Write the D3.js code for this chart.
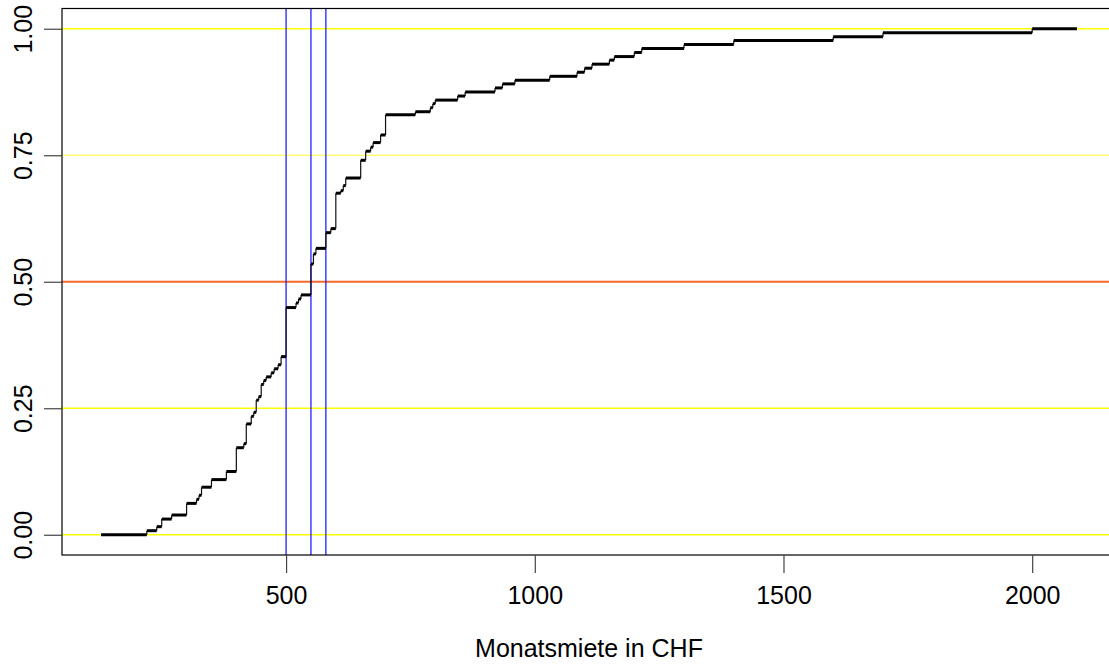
<!DOCTYPE html>
<html>
<head>
<meta charset="utf-8">
<script src="https://cdn.jsdelivr.net/npm/d3@7"></script>
<style>
  html, body { margin: 0; padding: 0; background: #fff; }
  svg { display: block; }
  text { font-family: "Liberation Sans", Arial, Helvetica, sans-serif; fill: #000; }
</style>
</head>
<body>
<svg id="chart" width="1109" height="666"></svg>
<script>
// ---- data ----
const knots = [220,240,250,270,300,320,325,330,350,380,400,415,420,430,435,440,445,450,455,460,
               470,476,484,490,500,520,525,530,550,555,560,580,590,600,610,615,620,650,660,670,
               675,690,700,760,790,795,800,845,860,920,935,960,1030,1085,1100,1115,1150,1160,1200,1215,
               1300,1400,1600,1700,2000];
const levels = [0.008,0.016,0.031,0.039,0.062,0.070,0.078,0.094,0.109,0.125,0.172,0.180,0.219,0.234,0.242,0.266,0.273,0.297,0.305,0.312,
                0.320,0.328,0.336,0.352,0.449,0.458,0.466,0.474,0.535,0.555,0.566,0.597,0.605,0.675,0.680,0.690,0.705,0.740,0.758,0.766,
                0.775,0.790,0.830,0.836,0.844,0.852,0.859,0.867,0.875,0.883,0.891,0.898,0.906,0.914,0.922,0.930,0.938,0.945,0.953,0.961,
                0.969,0.977,0.984,0.992,1.000];
const ecdfRange = [128, 2090];          // extent of the step function line
const xTicks = [500, 1000, 1500, 2000];
const yTicks = [0, 0.25, 0.5, 0.75, 1];
const yTickLabels = ["0.00", "0.25", "0.50", "0.75", "1.00"];
const hLines = [0, 0.25, 1];            // yellow reference lines
const hLinesThin = [0.75];              // thinner yellow reference line
const medianLine = [0.5];               // orange reference line
const vLines = [500, 550, 580];         // blue vertical lines
const xTitle = "Monatsmiete in CHF";

// ---- layout ----
const L = 62, R = 1116, T = 8.5, B = 555;
const FONT = "'Liberation Sans', Arial, Helvetica, sans-serif";
const pad = 0.04 * (ecdfRange[1] - ecdfRange[0]);
const x = d3.scaleLinear().domain([ecdfRange[0] - pad, ecdfRange[1] + pad]).range([L, R]);
const y = d3.scaleLinear().domain([-0.04, 1.04]).range([B, T]);

const svg = d3.select("#chart");
svg.append("rect").attr("width", 1109).attr("height", 666).attr("fill", "#fff");

// reference lines
svg.append("g").selectAll("line").data(hLines).join("line")
  .attr("x1", L).attr("x2", R).attr("y1", d => y(d)).attr("y2", d => y(d))
  .attr("stroke", "#ffff00").attr("stroke-width", 1.6);
svg.append("g").selectAll("line").data(hLinesThin).join("line")
  .attr("x1", L).attr("x2", R).attr("y1", d => y(d)).attr("y2", d => y(d))
  .attr("stroke", "#ffff30").attr("stroke-width", 1.0);
svg.append("g").selectAll("line").data(medianLine).join("line")
  .attr("x1", L).attr("x2", R).attr("y1", d => y(d)).attr("y2", d => y(d))
  .attr("stroke", "#f4692a").attr("stroke-width", 1.8);
svg.append("g").selectAll("line").data(vLines).join("line")
  .attr("x1", d => x(d)).attr("x2", d => x(d)).attr("y1", T).attr("y2", B)
  .attr("stroke", "#2020ff").attr("stroke-width", 1.3);

// ecdf step function
const lefts = [ecdfRange[0]].concat(knots);
const rights = knots.concat([ecdfRange[1]]);
const ys = [0].concat(levels);
const segs = lefts.map((l, i) => ({x0: l, x1: rights[i], y: ys[i]}));
const verts = knots.map((k, i) => ({x: k, y0: ys[i], y1: ys[i + 1]}));

svg.append("g").selectAll("line").data(verts).join("line")
  .attr("x1", d => x(d.x)).attr("x2", d => x(d.x))
  .attr("y1", d => y(d.y0)).attr("y2", d => y(d.y1))
  .attr("stroke", "#111").attr("stroke-width", 1.2);
svg.append("g").selectAll("line").data(segs).join("line")
  .attr("x1", d => x(d.x0)).attr("x2", d => x(d.x1))
  .attr("y1", d => y(d.y)).attr("y2", d => y(d.y))
  .attr("stroke", "#000").attr("stroke-width", 3);

// box
svg.append("rect").attr("x", L).attr("y", T).attr("width", R - L).attr("height", B - T)
  .attr("fill", "none").attr("stroke", "#000").attr("stroke-width", 1.2);

// x axis
const xAxis = svg.append("g").attr("transform", `translate(0,${B})`)
  .call(d3.axisBottom(x).tickValues(xTicks).tickFormat(d3.format("d")).tickSize(18).tickPadding(13));
xAxis.select(".domain").remove();
xAxis.selectAll("line").attr("stroke", "#444").attr("stroke-width", 1.2);
xAxis.selectAll("text").style("font-size", "25px").style("font-family", FONT).attr("fill", "#000");

// y axis
const yAxis = svg.append("g").attr("transform", `translate(${L},0)`)
  .call(d3.axisLeft(y).tickValues(yTicks).tickSize(18).tickFormat((d, i) => yTickLabels[i]));
yAxis.select(".domain").remove();
yAxis.selectAll("line").attr("stroke", "#444").attr("stroke-width", 1.2);
yAxis.selectAll("text").remove();
yAxis.selectAll(".tick").append("text")
  .attr("transform", "translate(-30,0) rotate(-90)")
  .attr("text-anchor", "middle")
  .style("font-size", "25px")
  .style("font-family", FONT)
  .attr("fill", "#000")
  .text((d, i) => yTickLabels[i]);

// x title
svg.append("text").attr("x", (L + R) / 2).attr("y", 657)
  .attr("text-anchor", "middle").style("font-size", "25px").style("font-family", FONT).text(xTitle);
</script>
</body>
</html>
